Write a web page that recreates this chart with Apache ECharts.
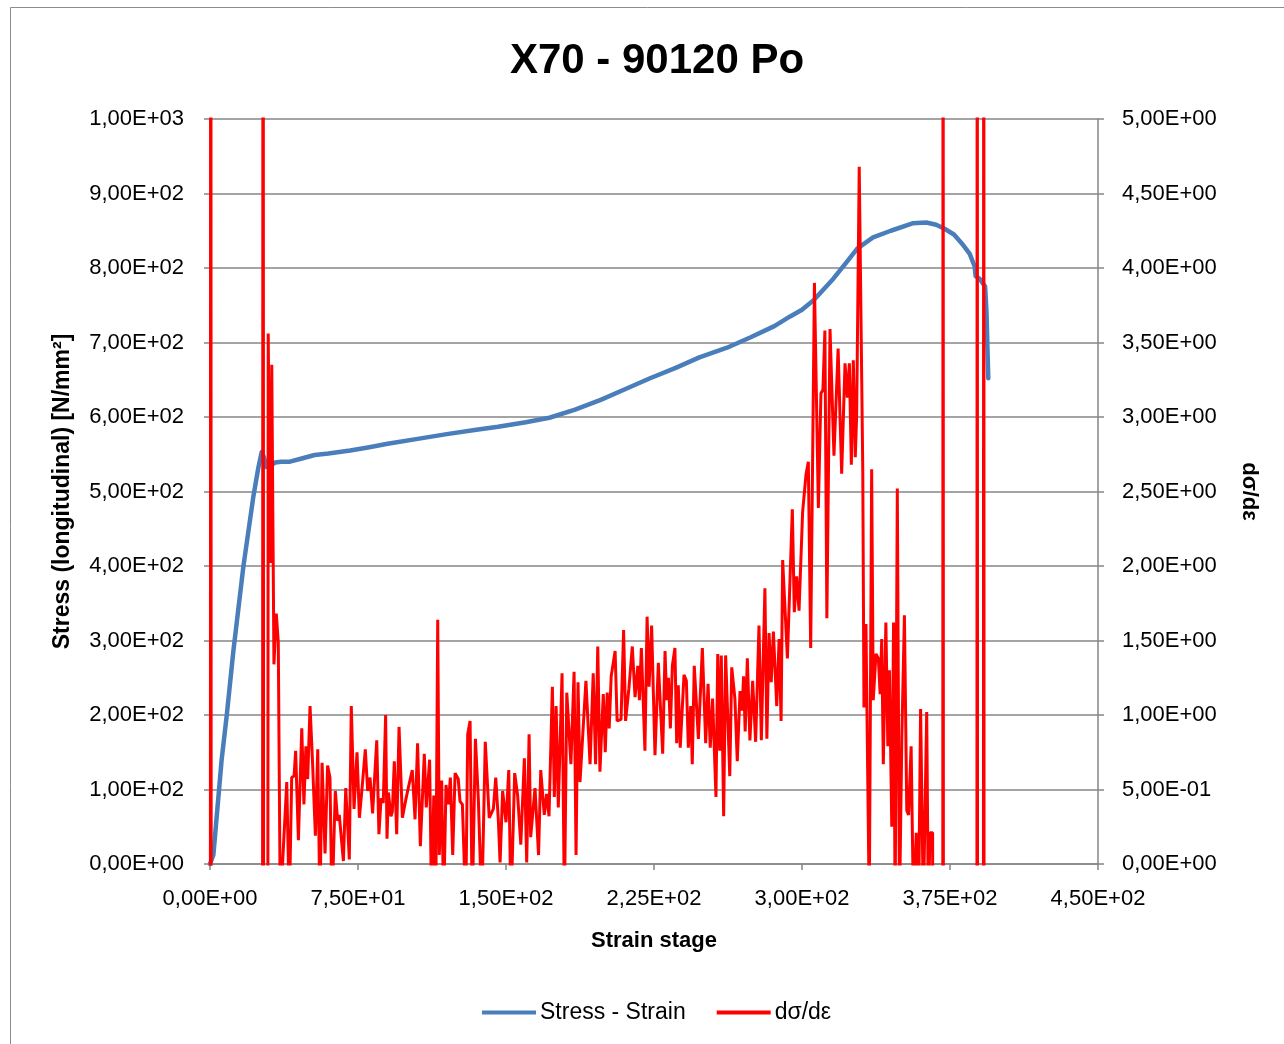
<!DOCTYPE html>
<html>
<head>
<meta charset="utf-8">
<script src="https://cdn.jsdelivr.net/npm/echarts@6/dist/echarts.min.js"></script>
<style>
  html, body { margin: 0; padding: 0; background: #fff; }
  #chart { width: 1284px; height: 1044px; }
</style>
</head>
<body>
<div id="chart"></div>
<script>
// Stress - strain curve (left axis, N/mm²)
const stressStrain = [0, 1.7, 5.9, 8.5, 11.8, 16.9, 21.9, 24.5, 26.2, 27.5, 28.5, 30.5, 33, 36, 40.5, 46, 53, 60, 71, 80, 90, 106, 120, 135, 146, 160, 172, 185, 198, 210, 223, 236, 248, 262, 274, 286, 294, 300, 306, 316, 322, 328, 336, 345, 356, 363, 368, 372, 377, 381, 385, 387.5, 388, 390.2, 392.8, 393.5, 394.4];
const stressValues = [0, 12, 140, 200, 285, 399, 492, 532, 553, 545, 533, 534, 539, 540, 540, 544, 549, 551, 555, 559, 564, 571, 577, 583, 587, 593, 599, 610, 623, 637, 652, 666, 680, 693, 707, 722, 735, 744, 757, 786, 806, 826, 841, 850, 860, 861, 858, 853, 845, 833, 819, 802, 789, 785, 775, 740, 652];

// dσ/dε (right axis); negative readings fall below the axis and are clipped
const slopeStrain = [0, 0.4, 0.8, 26.4, 26.9, 27.4, 28.9, 29.5, 30.5, 31.3, 32.4, 33.6, 34.6, 35.6, 38.9, 40.2, 41.4, 42.6, 43.4, 44.8, 46.5, 47.6, 48.6, 49.5, 50.7, 52.0, 53.4, 54.6, 55.7, 56.8, 58.3, 59.6, 60.8, 61.8, 63.5, 64.7, 65.5, 66.4, 67.6, 68.8, 70.6, 71.6, 73.0, 74.5, 75.7, 77.0, 78.7, 79.9, 81.1, 82.4, 84.5, 85.6, 86.7, 87.8, 89.0, 89.7, 90.4, 91.7, 92.4, 93.4, 94.6, 95.8, 97.5, 99.2, 100.8, 102.5, 103.9, 105.2, 106.6, 108.6, 109.6, 111.3, 112.3, 113.4, 114.4, 115.4, 116.2, 117.4, 118.4, 119.6, 120.8, 121.8, 123.0, 124.2, 125.8, 126.7, 127.9, 129.6, 130.6, 131.8, 132.9, 134.5, 136.0, 137.7, 139.5, 141.5, 143.6, 144.8, 146.1, 147.0, 148.3, 150.0, 151.4, 152.5, 154.4, 155.9, 157.5, 159.3, 160.5, 161.7, 162.5, 164.7, 166.5, 167.6, 169.4, 170.6, 171.8, 173.5, 174.5, 175.4, 176.5, 178.4, 179.6, 180.8, 182.9, 184.5, 185.5, 186.5, 187.5, 190.5, 192.6, 194.2, 195.4, 196.5, 197.6, 199.3, 200.3, 201.3, 202.3, 203.3, 204.3, 205.3, 206.3, 208.3, 209.6, 210.6, 212.3, 214.0, 215.4, 216.8, 217.6, 218.6, 220.4, 221.5, 222.5, 223.8, 225.5, 227.2, 229.4, 230.6, 231.4, 232.3, 233.3, 234.3, 235.6, 236.5, 237.3, 238.3, 240.2, 241.4, 242.4, 243.6, 244.4, 245.4, 247.5, 249.5, 251.2, 252.4, 253.5, 254.7, 256.4, 257.3, 258.3, 259.1, 260.3, 261.3, 263.4, 264.4, 266.0, 267.2, 268.6, 269.6, 270.4, 271.2, 272.3, 273.6, 275.0, 276.5, 278.2, 279.4, 281.2, 282.2, 283.3, 284.4, 285.5, 287.2, 288.4, 289.4, 290.2, 292.6, 295.1, 296.1, 297.3, 298.5, 300.3, 302.0, 303.2, 304.4, 306.3, 308.3, 309.6, 310.6, 311.6, 312.6, 314.2, 316.2, 318.3, 320.1, 321.8, 323.0, 324.0, 325.0, 326.0, 327.0, 327.7, 329.0, 330.8, 331.4, 332.4, 334.1, 335.3, 336.1, 337.5, 338.7, 339.6, 340.4, 341.2, 342.5, 343.5, 344.3, 345.5, 346.4, 347.2, 348.3, 349.4, 350.6, 351.9, 353.1, 354.0, 355.3, 356.5, 357.9, 359.1, 360.1, 361.5, 363.2, 364.0, 364.9, 366.2, 366.8, 371.2, 371.5, 371.8, 388.5, 388.8, 389.1, 391.8, 392.1, 392.4];
const slopeValues = [-10, 10, -10, -10, 10, -10, -10, 3.56, 2.02, 3.35, 1.34, 1.68, 1.49, -0.3, 0.55, -0.3, 0.58, 0.59, 0.76, 0.16, 0.91, 0.40, 0.79, 0.57, 1.06, 0.67, 0.19, 0.77, -0.3, 0.68, 0.07, 0.66, 0.58, -0.3, 0.49, 0.29, 0.33, 0.32, 0.02, 0.51, 0.03, 1.06, 0.37, 0.75, 0.31, 0.50, 0.77, 0.49, 0.58, 0.34, 0.83, 0.20, 0.44, 0.41, 1.00, 0.17, 0.48, 0.32, 0.35, 0.69, 0.20, 0.92, 0.31, 0.43, 0.53, 0.63, 0.30, 0.81, 0.12, 0.74, 0.38, 0.70, -0.3, 0.46, -0.3, 1.64, 0.06, 0.56, -0.3, 0.53, 0.40, 0.58, 0.06, 0.61, 0.57, 0.42, 0.40, -0.3, 0.87, 0.96, -0.3, 0.84, 0.43, -0.3, 0.82, 0.31, 0.37, 0.58, 0.30, 0.01, 0.49, 0.28, 0.63, -0.3, 0.61, 0.46, 0.13, 0.71, 0.01, 0.87, 0.18, 0.51, 0.06, 0.63, 0.33, 0.47, 0.32, 1.19, 0.45, 1.06, 0.38, 1.28, -0.3, 1.15, 0.67, 1.29, 0.06, 1.22, 0.55, 1.23, 0.67, 1.28, 0.67, 1.46, 0.62, 1.14, 0.75, 1.15, 0.91, 1.26, 1.26, 1.43, 0.96, 0.97, 1.57, 0.96, 1.18, 1.46, 1.12, 1.33, 1.10, 1.45, 0.76, 1.66, 1.19, 1.60, 0.73, 1.35, 0.74, 1.43, 1.10, 1.25, 0.91, 1.33, 1.45, 0.81, 1.20, 0.78, 1.27, 1.23, 0.78, 1.06, 0.67, 1.33, 0.84, 1.45, 0.81, 1.21, 0.78, 1.11, 0.45, 1.41, 0.76, 1.40, 0.32, 1.40, 0.59, 1.32, 1.11, 0.69, 1.16, 1.03, 1.26, 0.89, 1.38, 0.83, 1.23, 0.82, 1.60, 0.83, 1.85, 0.84, 1.55, 1.22, 1.56, 1.06, 1.51, 0.96, 2.04, 1.38, 2.38, 1.69, 1.93, 1.70, 2.36, 2.61, 2.70, 1.45, 3.90, 2.39, 3.16, 3.18, 3.58, 1.65, 3.59, 2.74, 3.46, 2.62, 3.36, 3.13, 3.36, 2.68, 3.38, 2.73, 3.01, 4.68, 2.64, 1.05, 1.61, -0.3, 2.65, 1.10, 1.41, 1.38, 1.14, 1.51, 0.67, 1.62, 0.79, 1.30, 0.25, 1.62, -0.3, 2.52, -0.3, 0.85, 1.67, 0.36, 0.33, 0.79, -0.3, 0.21, -0.3, 1.04, -0.3, 1.02, -0.3, 0.21, 0.21, -10, -10, 10, -10, -10, 10, -10, -10, 10, -10];

const chartTitle = 'X70 - 90120 Po';
const seriesNames = ['Stress - Strain', 'dσ/dε'];

// Scientific tick labels with decimal comma: 1,00E+03
function sci(v) {
  if (Math.abs(v) < 1e-12) return '0,00E+00';
  const parts = Number(v).toExponential(2).split('e');
  const sign = parts[1][0];
  const exp = parts[1].slice(1).padStart(2, '0');
  return parts[0].replace('.', ',') + 'E' + sign + exp;
}

const zip = (xs, ys) => xs.map((x, i) => [x, ys[i]]);

const font = 'Liberation Sans';
const gridColor = '#868686';
const labelStyle = { formatter: sci, fontFamily: font, fontSize: 22, color: '#000' };
const nameStyle = { fontFamily: font, fontWeight: 'bold', fontSize: 22, color: '#000' };

const chart = echarts.init(document.getElementById('chart'), null, { renderer: 'canvas' });
chart.setOption({
  backgroundColor: '#ffffff',
  animation: false,
  title: {
    text: chartTitle,
    left: 652,
    textAlign: 'center',
    top: 35,
    textStyle: { fontFamily: font, fontWeight: 'bold', fontSize: 42, color: '#000' }
  },
  graphic: [{
    type: 'rect',
    shape: { x: 10.5, y: 7.5, width: 1400, height: 1200 },
    style: { fill: 'none', stroke: '#8c8c8c', lineWidth: 1 },
    silent: true
  }],
  legend: {
    bottom: 15,
    left: 477,
    itemWidth: 54,
    itemHeight: 4,
    itemGap: 31,
    icon: 'rect',
    textStyle: { fontFamily: font, fontSize: 23, color: '#000', padding: [0, 0, 0, -1] },
    data: seriesNames
  },
  grid: { left: 210, right: 186, top: 119, bottom: 180, containLabel: false },
  xAxis: {
    type: 'value',
    min: 0, max: 450, interval: 75,
    name: 'Strain stage',
    nameLocation: 'middle',
    nameGap: 66,
    nameTextStyle: nameStyle,
    axisLine: { onZero: false, lineStyle: { color: gridColor, width: 1.5 } },
    axisTick: { show: true, inside: false, length: 6, lineStyle: { color: gridColor, width: 1.5 } },
    axisLabel: Object.assign({ margin: 24 }, labelStyle),
    splitLine: { show: false }
  },
  yAxis: [{
    type: 'value',
    min: 0, max: 1000, interval: 100,
    name: 'Stress (longitudinal) [N/mm²]',
    nameLocation: 'middle',
    nameGap: 136,
    nameRotate: 90,
    nameTextStyle: Object.assign({}, nameStyle, { fontSize: 23 }),
    axisLine: { show: true, lineStyle: { color: gridColor, width: 1.5 } },
    axisTick: { show: true, length: 6, lineStyle: { color: gridColor, width: 1.5 } },
    axisLabel: Object.assign({ margin: 26 }, labelStyle),
    splitLine: { show: true, lineStyle: { color: gridColor, width: 1.5 } }
  }, {
    type: 'value',
    min: 0, max: 5, interval: 0.5,
    name: 'dσ/dε',
    nameLocation: 'middle',
    nameGap: 140,
    nameRotate: -90,
    nameTextStyle: nameStyle,
    position: 'right',
    axisLine: { show: true, lineStyle: { color: gridColor, width: 1.5 } },
    axisTick: { show: true, length: 6, lineStyle: { color: gridColor, width: 1.5 } },
    axisLabel: Object.assign({ margin: 24 }, labelStyle),
    splitLine: { show: false }
  }],
  series: [{
    name: seriesNames[0],
    type: 'line',
    yAxisIndex: 0,
    data: zip(stressStrain, stressValues),
    showSymbol: false,
    smooth: false,
    clip: true,
    lineStyle: { color: '#4a7ebb', width: 4.5, join: 'round', cap: 'round' },
    itemStyle: { color: '#4a7ebb' },
    z: 3
  }, {
    name: seriesNames[1],
    type: 'line',
    yAxisIndex: 1,
    data: zip(slopeStrain, slopeValues),
    showSymbol: false,
    clip: true,
    lineStyle: { color: '#ff0000', width: 3 },
    itemStyle: { color: '#ff0000' },
    z: 4
  }]
});
</script>
</body>
</html>
